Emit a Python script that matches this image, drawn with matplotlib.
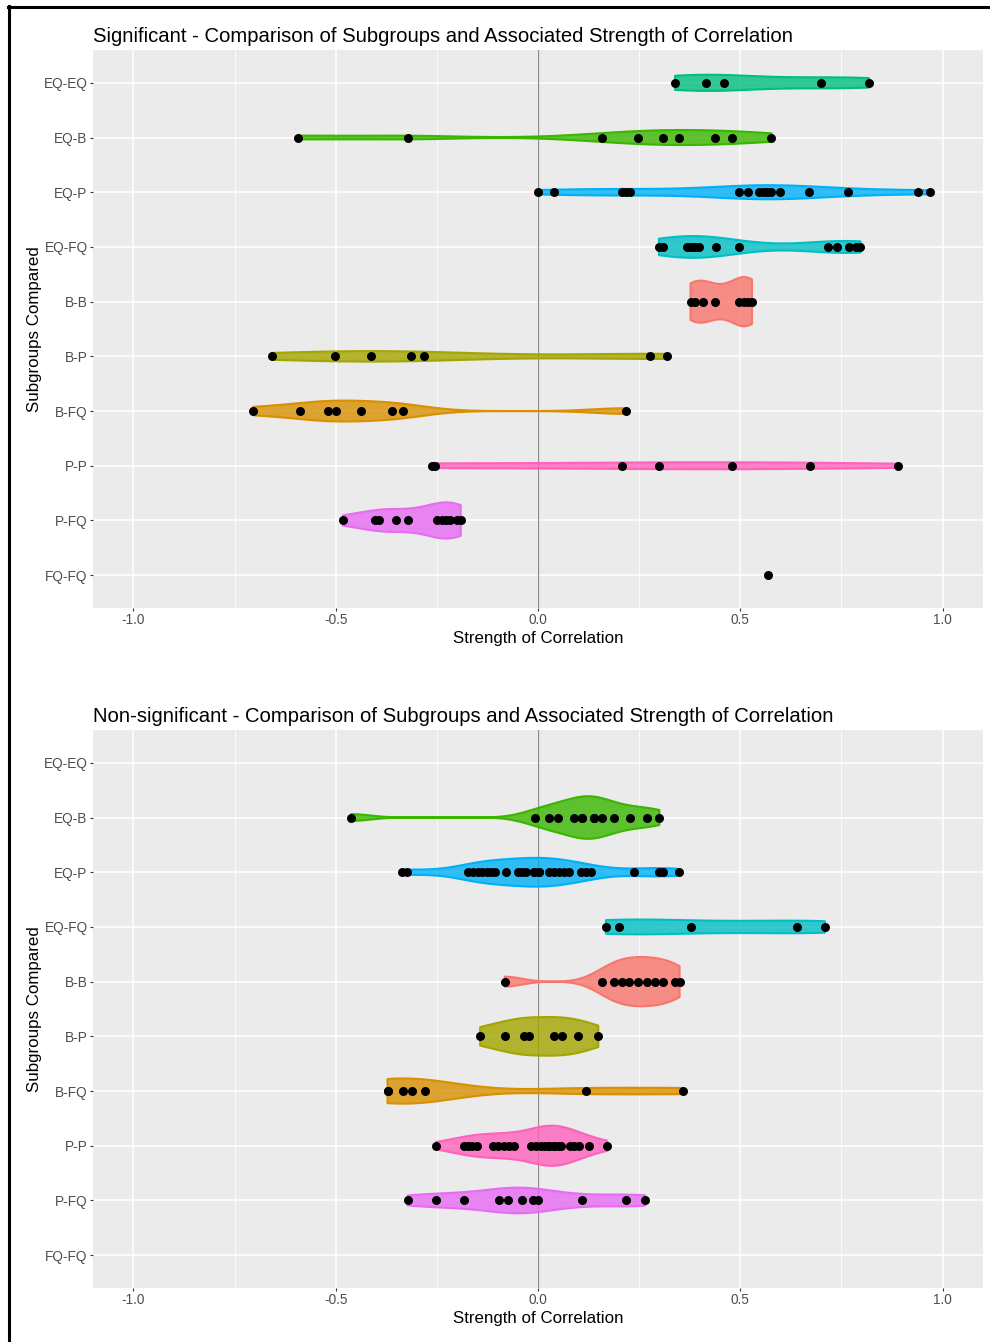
import numpy as np
import matplotlib
matplotlib.use("Agg")
import matplotlib.pyplot as plt
from matplotlib.lines import Line2D

# ---------------- data ----------------
categories = ["EQ-EQ", "EQ-B", "EQ-P", "EQ-FQ", "B-B", "B-P", "B-FQ", "P-P", "P-FQ", "FQ-FQ"]
colors = {"B-B": "#F8766D", "B-FQ": "#D89000", "B-P": "#A3A500", "EQ-B": "#39B600",
          "EQ-EQ": "#00BF7D", "EQ-FQ": "#00BFC4", "EQ-P": "#00B0F6", "FQ-FQ": "#9590FF",
          "P-FQ": "#E76BF3", "P-P": "#FF62BC"}

sig_eq_eq = [0.339, 0.416, 0.459, 0.699, 0.818]
sig_eq_b = [-0.593, -0.322, 0.158, 0.248, 0.308, 0.348, 0.438, 0.479, 0.577]
sig_eq_p = [0.001, 0.040, 0.208, 0.218, 0.228, 0.498, 0.519, 0.546, 0.556, 0.567,
            0.567, 0.577, 0.597, 0.669, 0.766, 0.939, 0.969]
sig_eq_fq = [0.299, 0.310, 0.368, 0.379, 0.379, 0.389, 0.389, 0.399, 0.439, 0.498,
             0.718, 0.739, 0.769, 0.787, 0.797]
sig_b_b = [0.377, 0.387, 0.407, 0.438, 0.498, 0.508, 0.519, 0.529]
sig_b_p = [-0.658, -0.503, -0.413, -0.313, -0.282, 0.278, 0.318]
sig_b_fq = [-0.704, -0.588, -0.520, -0.500, -0.438, -0.360, -0.333, 0.218]
sig_p_p = [-0.261, -0.254, 0.207, 0.299, 0.479, 0.672, 0.891]
sig_p_fq = [-0.482, -0.403, -0.393, -0.351, -0.322, -0.249, -0.238, -0.228, -0.218,
            -0.199, -0.191]
sig_fq_fq = [0.568]

# Non-significant panel
ns_eq_eq = []
ns_eq_b = [-0.462, -0.007, 0.028, 0.049, 0.088, 0.109, 0.109, 0.139, 0.139, 0.159,
           0.188, 0.228, 0.269, 0.300]
ns_eq_p = [-0.335, -0.323, -0.172, -0.160, -0.149, -0.139, -0.127, -0.116, -0.106,
           -0.079, -0.050, -0.040, -0.030, -0.009, -0.009, 0.003, 0.003, 0.028, 0.040,
           0.053, 0.065, 0.077, 0.106, 0.119, 0.131, 0.237, 0.299, 0.308, 0.348]
ns_eq_fq = [0.168, 0.199, 0.379, 0.639, 0.709]
ns_b_b = [-0.082, 0.159, 0.188, 0.208, 0.226, 0.248, 0.269, 0.289, 0.308, 0.339, 0.350]
ns_b_p = [-0.143, -0.082, -0.034, -0.022, 0.039, 0.059, 0.098, 0.149]
ns_b_fq = [-0.372, -0.372, -0.333, -0.312, -0.279, 0.119, 0.358]
ns_p_p = [-0.252, -0.184, -0.174, -0.163, -0.151, -0.112, -0.100, -0.083, -0.071,
          -0.059, -0.017, -0.005, 0.007, 0.017, 0.028, 0.028, 0.039, 0.039, 0.049,
          0.058, 0.079, 0.090, 0.102, 0.127, 0.171]
ns_p_fq = [-0.322, -0.252, -0.182, -0.097, -0.073, -0.040, -0.013, -0.001, 0.109,
           0.218, 0.265]
ns_fq_fq = []

sig_data = [sig_eq_eq, sig_eq_b, sig_eq_p, sig_eq_fq, sig_b_b, sig_b_p, sig_b_fq,
            sig_p_p, sig_p_fq, sig_fq_fq]
ns_data = [ns_eq_eq, ns_eq_b, ns_eq_p, ns_eq_fq, ns_b_b, ns_b_p, ns_b_fq,
           ns_p_p, ns_p_fq, ns_fq_fq]

titles = ["Significant - Comparison of Subgroups and Associated Strength of Correlation",
          "Non-significant - Comparison of Subgroups and Associated Strength of Correlation"]
xticks = [-1.0, -0.5, 0.0, 0.5, 1.0]
xticklabels = ["-1.0", "-0.5", "0.0", "0.5", "1.0"]

# ---------------- helpers ----------------
FONT = "Liberation Sans"
W, H = 990, 1342


def bw_nrd0(x):
    x = np.asarray(x, float)
    hi = np.std(x, ddof=1)
    q75, q25 = np.percentile(x, [75, 25])
    lo = min(hi, (q75 - q25) / 1.34)
    if lo == 0:
        lo = hi if hi > 0 else (abs(x[0]) if x[0] != 0 else 1.0)
    return 0.9 * lo * len(x) ** (-0.2)


def density(x):
    x = np.asarray(x, float)
    bw = bw_nrd0(x)
    g = np.linspace(x.min(), x.max(), 512)
    d = np.exp(-0.5 * ((g[:, None] - x[None, :]) / bw) ** 2).sum(1) / (len(x) * bw * np.sqrt(2 * np.pi))
    return g, d


def fx(px):
    return px / W


def fy(py):
    return 1 - py / H


fig = plt.figure(figsize=(W / 100, H / 100), dpi=100)
fig.patch.set_facecolor("white")

panels = [(sig_data, 50, 608, titles[0]), (ns_data, 730, 1288, titles[1])]
left_px, right_px = 93, 983

for data, top_px, bot_px, title in panels:
    ax = fig.add_axes([fx(left_px), fy(bot_px), fx(right_px) - fx(left_px),
                       (bot_px - top_px) / H])
    ax.set_facecolor("#EBEBEB")
    for s in ax.spines.values():
        s.set_visible(False)
    ax.set_xlim(-1.1, 1.1)
    ax.set_ylim(len(categories) + 0.6, 0.4)
    ax.set_xticks(xticks)
    ax.set_xticklabels(xticklabels, fontfamily=FONT, fontsize=9.8, color="#4D4D4D")
    ax.set_xticks([-0.75, -0.25, 0.25, 0.75], minor=True)
    ypos = np.arange(1, len(categories) + 1)
    ax.set_yticks(ypos)
    ax.set_yticklabels(categories, fontfamily=FONT, fontsize=9.8, color="#4D4D4D")
    ax.tick_params(axis="both", which="major", length=2.4, width=0.8, color="#333333", pad=1.5)
    ax.tick_params(axis="x", which="minor", length=0)
    ax.grid(True, which="major", color="white", linewidth=1.1)
    ax.grid(True, which="minor", axis="x", color="white", linewidth=0.55)
    ax.set_axisbelow(True)

    ax.axvline(0, color="#8C8C8C", linewidth=0.9, zorder=1.5)

    dens = {}
    for cat, vals in zip(categories, data):
        if len(vals) >= 2:
            dens[cat] = density(vals)
    maxd = max(d.max() for g, d in dens.values())
    for i, (cat, vals) in enumerate(zip(categories, data)):
        y = i + 1
        if cat in dens:
            g, d = dens[cat]
            hw = d / maxd * 0.45
            xs = np.concatenate([g, g[::-1]])
            ys = np.concatenate([y - hw, (y + hw)[::-1]])
            ax.fill(xs, ys, facecolor=colors[cat], alpha=0.8, edgecolor="none", zorder=2)
            ax.fill(xs, ys, facecolor="none", edgecolor=colors[cat], linewidth=1.5,
                    joinstyle="round", zorder=2.1)
        if len(vals) > 0:
            ax.scatter(vals, [y] * len(vals), s=42, color="black", zorder=3, linewidths=0)

    fig.text(fx(left_px), fy(top_px - 8), title, fontfamily=FONT, fontsize=14.6,
             ha="left", va="baseline", color="black")
    fig.text(fx(538.7), fy(bot_px + 35), "Strength of Correlation", fontfamily=FONT,
             fontsize=12.2, ha="center", va="baseline", color="black")
    fig.text(fx(35), fy((top_px + bot_px) / 2), "Subgroups Compared", fontfamily=FONT,
             fontsize=12.2, ha="center", va="center", rotation=90, color="black")

# black frame lines (top and left)
fig.add_artist(Line2D([fx(8), fx(990)], [fy(7), fy(7)], color="black", linewidth=2.2))
fig.add_artist(Line2D([fx(9), fx(9)], [fy(6), fy(1342)], color="black", linewidth=2.2))

fig.savefig("out.png", dpi=100, facecolor="white")
